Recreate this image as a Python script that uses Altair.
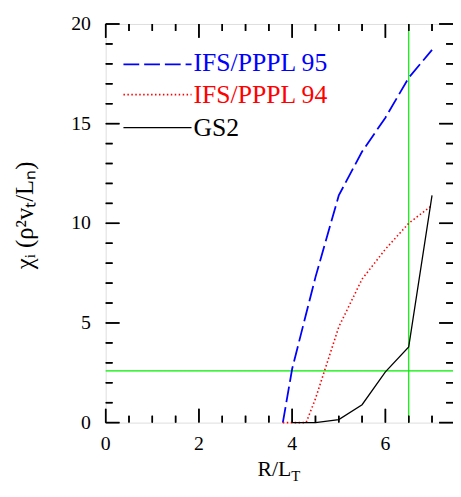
import altair as alt
import pandas as pd

# ---- data ----
ifs95_x = [3.8, 4.0, 4.5, 5.0, 5.5, 6.0, 6.5, 7.0]
ifs95_y = [0.0, 2.7, 7.3, 11.4, 13.6, 15.3, 17.3, 18.7]

ifs94_x = [3.8, 4.3, 4.5, 5.0, 5.5, 6.0, 6.5, 7.0]
ifs94_y = [0.0, 0.0, 1.2, 4.8, 7.2, 8.7, 10.0, 10.9]

gs2_x = [4.0, 4.5, 5.0, 5.5, 6.0, 6.5, 7.0]
gs2_y = [0.0, 0.0, 0.15, 0.9, 2.55, 3.8, 11.4]

vline_x = [6.5]
hline_y = [2.6]

x_major = [0, 2, 4, 6]
x_minor = [0.5, 1, 1.5, 2.5, 3, 3.5, 4.5, 5, 5.5, 6.5, 7]
y_major = [0, 5, 10, 15, 20]
y_minor = [1, 2, 3, 4, 6, 7, 8, 9, 11, 12, 13, 14, 16, 17, 18, 19]

legend_labels = ["IFS/PPPL 95", "IFS/PPPL 94", "GS2"]

X_DOMAIN = [0, 7.45]
Y_DOMAIN = [0, 20]
W, H = 352, 404
FONT = "Liberation Serif"

xs = alt.Scale(domain=X_DOMAIN, nice=False, zero=False)
ys = alt.Scale(domain=Y_DOMAIN, nice=False, zero=False)


def X(f="x"):
    return alt.X(f"{f}:Q", scale=xs, axis=None)


def Y(f="y"):
    return alt.Y(f"{f}:Q", scale=ys, axis=None)


def series(xv, yv):
    return pd.DataFrame({"x": xv, "y": yv})


dummy = alt.Data(values=[{}])

blue_layer = alt.Chart(series(ifs95_x, ifs95_y)).mark_line(
    color="blue", strokeWidth=1.8, strokeDash=[16, 5]
).encode(x=X(), y=Y())

red_layer = alt.Chart(series(ifs94_x, ifs94_y)).mark_line(
    color="red", strokeWidth=1.6, strokeDash=[1.5, 2.5]
).encode(x=X(), y=Y())

black_layer = alt.Chart(series(gs2_x, gs2_y)).mark_line(
    color="black", strokeWidth=1.3
).encode(x=X(), y=Y())

vline = alt.Chart(pd.DataFrame({"x": vline_x})).mark_rule(
    color="#00ee00", strokeWidth=1.2
).encode(x=X(), y=alt.value(0), y2=alt.value(H))

hline = alt.Chart(pd.DataFrame({"y": hline_y})).mark_rule(
    color="#00ee00", strokeWidth=1.2
).encode(y=Y(), x=alt.value(0), x2=alt.value(W))


# inward ticks on all four sides (rules plus filled tick marks)
def xticks(vals, length):
    df = pd.DataFrame({"x": vals})
    out = []
    for y0, y1 in [(H, H - length), (0, length)]:
        out.append(alt.Chart(df).mark_rule(color="black", strokeWidth=1.5, opacity=1).encode(
            x=X(), y=alt.value(y0), y2=alt.value(y1)))
        out.append(alt.Chart(df).mark_tick(
            color="black", orient="vertical", size=length, thickness=1.5, opacity=1
        ).encode(x=X(), y=alt.value((y0 + y1) / 2)))
    return out


def yticks(vals, length):
    df = pd.DataFrame({"y": vals})
    out = []
    for x0, x1 in [(0, length), (W, W - length)]:
        out.append(alt.Chart(df).mark_rule(color="black", strokeWidth=1.5, opacity=1).encode(
            y=Y(), x=alt.value(x0), x2=alt.value(x1)))
        out.append(alt.Chart(df).mark_tick(
            color="black", orient="horizontal", size=length, thickness=1.5, opacity=1
        ).encode(y=Y(), x=alt.value((x0 + x1) / 2)))
    return out


ticks = xticks(x_major, 14) + xticks(x_minor, 7) + yticks(y_major, 14) + yticks(y_minor, 7)

# tick labels drawn as text from the tick lists
xlabels = alt.Chart(pd.DataFrame({"x": x_major})).mark_text(
    font=FONT, fontSize=20, color="black", align="center", baseline="alphabetic"
).encode(x=X(), y=alt.value(H + 28), text=alt.Text("x:Q", format="d"))

ylabels = alt.Chart(pd.DataFrame({"y": y_major})).mark_text(
    font=FONT, fontSize=20, color="black", align="right", baseline="middle"
).encode(y=Y(), x=alt.value(-15), text=alt.Text("y:Q", format="d"))

# legend (pixel positions inside the plot)
leg = []
leg.append(alt.Chart(dummy).mark_rule(color="blue", strokeWidth=1.8, strokeDash=[16, 5]).encode(
    x=alt.value(18), x2=alt.value(87), y=alt.value(41)))
leg.append(alt.Chart(dummy).mark_rule(color="red", strokeWidth=1.6, strokeDash=[1.5, 2.5]).encode(
    x=alt.value(18), x2=alt.value(87), y=alt.value(71.6)))
leg.append(alt.Chart(dummy).mark_rule(color="black", strokeWidth=1.3).encode(
    x=alt.value(18), x2=alt.value(87), y=alt.value(105)))
for lab, col, yy in zip(legend_labels, ["blue", "red", "black"], [47.6, 80, 113.3]):
    leg.append(alt.Chart(dummy).mark_text(
        text=lab, color=col, font=FONT, fontSize=26, align="left", baseline="alphabetic"
    ).encode(x=alt.value(89), y=alt.value(yy)))

# axis titles
titles = [
    alt.Chart(dummy).mark_text(
        text="R/L", font=FONT, fontSize=22, align="right", baseline="alphabetic", color="black"
    ).encode(x=alt.value(188), y=alt.value(458)),
    alt.Chart(dummy).mark_text(
        text="T", font=FONT, fontSize=15, align="left", baseline="alphabetic", color="black"
    ).encode(x=alt.value(188), y=alt.value(463)),
    alt.Chart(dummy).mark_text(
        text="χᵢ (ρ²vₜ/Lₙ)", font=FONT, fontSize=25, angle=270, align="center",
        baseline="middle", color="black"
    ).encode(x=alt.value(-82), y=alt.value(194)),
]

chart = alt.layer(
    vline, hline, blue_layer, red_layer, black_layer, xlabels, ylabels, *leg, *titles, *ticks
).properties(
    width=W, height=H,
    autosize=alt.AutoSizeParams(type="none"),
    padding={"left": 99, "top": 13, "right": 0, "bottom": 58},
).configure_view(stroke="black", strokeWidth=2).configure(background="white")

chart.save("out.html", embed_options={"renderer": "svg", "actions": False})
